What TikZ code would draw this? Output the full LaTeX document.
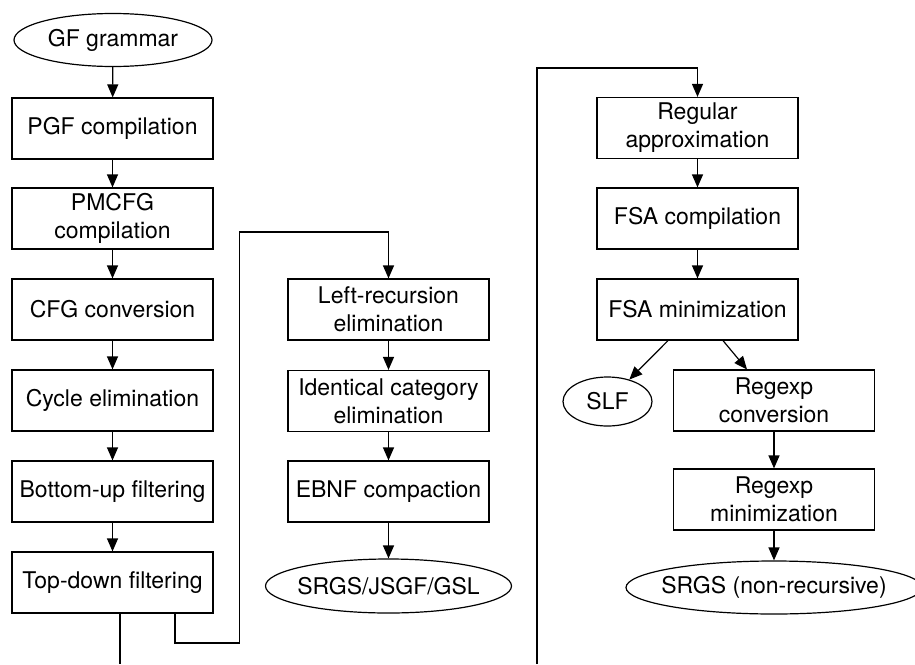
\documentclass[tikz,border=0pt]{standalone}
\usepackage{fontspec}
\setmainfont{TeX Gyre Heros}
\usetikzlibrary{shapes.geometric,arrows.meta,calc}
\tikzset{
  pbox/.style={draw, line width=0.6pt, minimum width=100.5pt, minimum height=30.5pt,
    inner sep=0pt, align=center, font=\fontsize{11.5}{14}\selectfont},
  oval/.style={draw, ellipse, line width=0.6pt, inner sep=0pt,
    font=\fontsize{11.5}{14}\selectfont},
  arr/.style={line width=0.6pt, -{Triangle[length=6.5pt,width=5.5pt]}},
  plainline/.style={line width=0.6pt},
}
\begin{document}
\begin{tikzpicture}[x=0.5pt,y=-0.5pt]
\useasboundingbox (0,0) rectangle (915,664);
% left column
\node[oval, minimum width=99pt, minimum height=26.5pt] (gf) at (113,40) {\makebox[0pt]{GF grammar}};
\node[pbox] (pgf) at (112.5,128.5) {PGF compilation};
\node[pbox] (pmcfg) at (112.5,218.5) {PMCFG\\compilation};
\node[pbox] (cfg) at (112.5,309.5) {CFG conversion};
\node[pbox] (cyc) at (112.5,400.5) {Cycle elimination};
\node[pbox] (bu) at (112.5,491.5) {Bottom-up filtering};
\node[pbox] (td) at (112.5,582.5) {Top-down filtering};
% middle column
\node[pbox] (lrec) at (388.5,309.5) {Left-recursion\\elimination};
\node[pbox] (ident) at (388.5,401) {Identical category\\elimination};
\node[pbox] (ebnf) at (388.5,491.5) {EBNF compaction};
\node[oval, minimum width=123pt, minimum height=27pt] (srgs) at (388.5,586) {\makebox[0pt]{SRGS/JSGF/GSL}};
% right column
\node[pbox] (ra) at (697.5,128) {Regular\\approximation};
\node[pbox] (fsac) at (697.5,218.5) {FSA compilation};
\node[pbox] (fsam) at (697.5,309.5) {FSA minimization};
\node[oval, minimum width=44.5pt, minimum height=24.5pt] (slf) at (607.5,401.5) {\makebox[0pt]{SLF}};
\node[pbox] (rconv) at (774,400.5) {Regexp\\conversion};
\node[pbox] (rmin) at (774,499.5) {Regexp\\minimization};
\node[oval, minimum width=148pt, minimum height=26.5pt] (srgsnr) at (774,587.5) {\makebox[0pt]{SRGS (non-recursive)}};
% connectors
\draw[arr] (gf) -- (pgf);
\draw[arr] (pgf) -- (pmcfg);
\draw[arr] (pmcfg) -- (cfg);
\draw[arr] (cfg) -- (cyc);
\draw[arr] (cyc) -- (bu);
\draw[arr] (bu) -- (td);
\draw[arr] (lrec) -- (ident);
\draw[arr] (ident) -- (ebnf);
\draw[arr] (ebnf) -- (srgs);
\draw[arr] (ra) -- (fsac);
\draw[arr] (fsac) -- (fsam);
\draw[arr] (rconv) -- (rmin);
\draw[arr] (rmin) -- (srgsnr);
\coordinate (fsamL) at ($(fsam.south)+(-29.5,0)$);
\coordinate (fsamR) at ($(fsam.south)+(25.5,0)$);
\coordinate (rconvT) at ($(rconv.north)+(-27,0)$);
\draw[arr] (fsamL) -- (slf);
\draw[arr] (fsamR) -- (rconvT);
% top-down to left-recursion
\coordinate (tdA) at ($(td.south)+(62.5,0)$);
\coordinate (c1) at (239.5,643);
\coordinate (c2) at (239.5,232);
\draw[arr] (tdA) |- (c1) -- (c2) -| (lrec.north);
% top-down to regular approximation (continued across page)
\coordinate (tdB) at ($(td.south)+(7.5,0)$);
\coordinate (pagebottom) at (0,664);
\draw[plainline] (tdB) -- (tdB |- pagebottom);
\coordinate (cont) at (537,664);
\coordinate (ctop) at (537,68);
\draw[arr] (cont) -- (ctop) -| (ra.north);
\end{tikzpicture}
\end{document}
